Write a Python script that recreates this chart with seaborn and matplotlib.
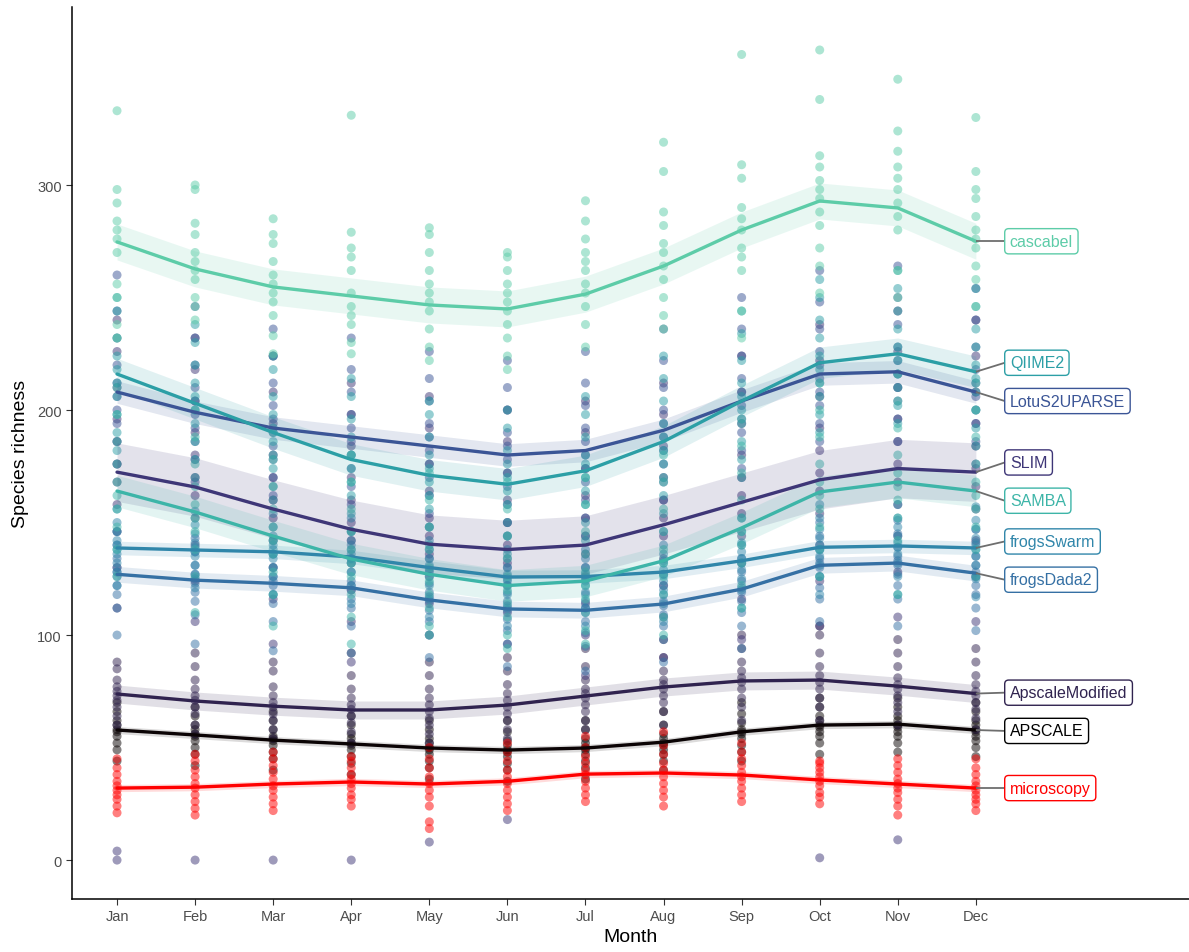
import numpy as np
import pandas as pd
import matplotlib
matplotlib.use("Agg")
import matplotlib.pyplot as plt
import seaborn as sns

# ---------------------------------------------------------------- data
months = ["Jan", "Feb", "Mar", "Apr", "May", "Jun",
          "Jul", "Aug", "Sep", "Oct", "Nov", "Dec"]

pipelines = ["APSCALE", "ApscaleModified", "SLIM", "LotuS2UPARSE", "frogsDada2",
             "frogsSwarm", "QIIME2", "SAMBA", "cascabel", "microscopy"]

# per-sample richness, one list per month
cascabel_pts = [
    [333, 298, 292, 284, 280, 276, 270, 256, 250, 238, 232],
    [300, 298, 283, 278, 270, 266, 262, 258, 250, 246, 240],
    [285, 278, 274, 266, 260, 256, 252, 248, 242, 233, 225],
    [331, 279, 272, 268, 262, 252, 246, 242, 238, 230, 225],
    [281, 278, 270, 262, 256, 252, 248, 244, 236, 228, 222],
    [270, 268, 262, 256, 252, 248, 244, 238, 232, 224, 218],
    [293, 284, 276, 270, 266, 262, 256, 252, 246, 238, 228],
    [319, 306, 288, 282, 274, 270, 264, 258, 250, 242, 236],
    [358, 309, 303, 290, 285, 280, 272, 268, 262, 244, 232],
    [360, 338, 313, 308, 302, 298, 294, 288, 282, 272, 264, 252],
    [347, 324, 315, 308, 303, 298, 292, 286, 280, 262, 250],
    [330, 306, 298, 294, 286, 280, 276, 272, 264, 258, 246],
]
qiime2_pts = [
    [250, 244, 232, 224, 218, 212, 206, 198, 190, 182],
    [238, 230, 220, 212, 206, 200, 194, 186, 178, 170],
    [224, 218, 206, 198, 192, 186, 180, 174, 166, 160],
    [214, 206, 196, 188, 180, 174, 168, 162, 154, 146],
    [204, 198, 188, 180, 174, 168, 162, 156, 148, 140],
    [200, 192, 182, 176, 170, 164, 158, 150, 144, 136],
    [206, 198, 188, 180, 176, 170, 164, 158, 150, 142],
    [224, 214, 204, 194, 188, 182, 176, 170, 162, 154],
    [244, 234, 222, 212, 206, 200, 194, 186, 178, 170],
    [258, 250, 240, 232, 224, 218, 212, 206, 198, 190],
    [262, 254, 244, 236, 228, 222, 216, 210, 202, 194],
    [254, 246, 236, 228, 220, 214, 208, 200, 192, 184],
]
lotus_pts = [
    [260, 244, 232, 220, 212, 206, 200, 194, 186, 176],
    [246, 232, 220, 210, 204, 198, 192, 186, 178, 168],
    [236, 224, 212, 202, 196, 190, 184, 178, 170, 162],
    [232, 218, 208, 198, 192, 186, 180, 174, 166, 158],
    [226, 214, 204, 194, 188, 182, 176, 170, 162, 154],
    [222, 210, 200, 190, 184, 178, 172, 166, 158, 150],
    [226, 212, 202, 192, 186, 180, 174, 168, 160, 152],
    [236, 222, 210, 200, 194, 188, 182, 176, 168, 160],
    [250, 236, 224, 214, 208, 202, 196, 190, 182, 174],
    [262, 248, 236, 226, 220, 214, 208, 202, 194, 186],
    [264, 250, 238, 228, 222, 216, 210, 204, 196, 186],
    [254, 240, 228, 218, 212, 206, 200, 194, 186, 176],
]
slim_pts = [
    [240, 226, 210, 196, 186, 176, 168, 158, 146, 130, 112, 4, 0],
    [232, 218, 204, 190, 180, 170, 162, 152, 140, 124, 106, 0],
    [224, 208, 194, 180, 170, 160, 152, 142, 130, 116, 96, 0],
    [212, 198, 184, 170, 160, 150, 142, 132, 120, 106, 88, 0],
    [206, 192, 176, 164, 152, 144, 136, 126, 114, 100, 8],
    [200, 186, 172, 160, 150, 140, 132, 122, 110, 96, 18],
    [204, 190, 174, 162, 152, 144, 136, 126, 114, 100, 82],
    [212, 198, 184, 170, 160, 152, 144, 134, 122, 108, 90],
    [224, 208, 194, 180, 170, 162, 154, 144, 132, 116, 98],
    [238, 222, 206, 192, 182, 172, 164, 154, 140, 124, 104, 1],
    [244, 226, 210, 196, 186, 176, 168, 158, 144, 128, 108, 9],
    [240, 224, 208, 194, 184, 174, 166, 156, 142, 126, 106],
]
samba_pts = [
    [210, 198, 186, 176, 168, 162, 156, 148, 138, 126],
    [200, 188, 176, 166, 158, 152, 146, 138, 126, 110],
    [190, 178, 166, 156, 148, 142, 136, 128, 118, 104],
    [180, 168, 156, 146, 138, 132, 126, 118, 108, 96],
    [172, 160, 148, 138, 130, 124, 118, 112, 104, 100],
    [168, 156, 144, 134, 126, 120, 114, 108, 100, 94],
    [170, 158, 146, 136, 128, 122, 116, 110, 102, 96],
    [180, 168, 156, 146, 138, 132, 126, 118, 108, 100],
    [196, 184, 172, 160, 152, 146, 140, 132, 122, 112],
    [212, 200, 188, 176, 168, 162, 156, 148, 138, 126],
    [216, 204, 192, 180, 172, 166, 160, 152, 142, 118],
    [212, 200, 188, 176, 168, 162, 156, 148, 138, 126],
]
swarm_pts = [
    [156, 150, 146, 142, 140, 138, 136, 132, 128, 122],
    [155, 149, 145, 141, 139, 137, 135, 131, 127, 121],
    [154, 148, 144, 140, 138, 136, 134, 130, 126, 118],
    [152, 146, 142, 138, 136, 134, 132, 128, 122, 114],
    [148, 142, 138, 134, 131, 129, 126, 122, 116, 108],
    [144, 138, 134, 130, 127, 125, 122, 118, 112, 104],
    [144, 138, 134, 130, 127, 125, 122, 118, 112, 104],
    [146, 140, 136, 132, 129, 127, 124, 120, 114, 106],
    [152, 146, 141, 137, 134, 132, 129, 125, 120, 112],
    [158, 152, 147, 143, 140, 138, 135, 131, 126, 118],
    [158, 152, 148, 144, 141, 139, 136, 132, 126, 118],
    [157, 151, 147, 143, 140, 138, 135, 131, 125, 117],
]
dada2_pts = [
    [146, 140, 134, 130, 128, 126, 122, 118, 112, 100],
    [143, 137, 131, 127, 125, 123, 119, 115, 109, 96],
    [142, 136, 130, 126, 124, 122, 118, 114, 106, 93],
    [140, 134, 128, 124, 122, 120, 116, 112, 104, 92],
    [134, 128, 123, 119, 117, 115, 111, 106, 100, 90],
    [130, 124, 119, 115, 113, 111, 107, 102, 96, 86],
    [130, 124, 119, 115, 112, 110, 106, 101, 95, 84],
    [133, 127, 122, 118, 115, 113, 109, 104, 98, 88],
    [140, 134, 128, 124, 121, 119, 115, 110, 104, 94],
    [150, 144, 138, 134, 132, 130, 126, 121, 116, 106],
    [151, 145, 139, 135, 133, 131, 127, 122, 116, 104],
    [147, 141, 135, 131, 128, 126, 122, 118, 112, 102],
]
apsmod_pts = [
    [88, 85, 80, 77, 75, 73, 71, 68, 64, 60],
    [92, 86, 80, 76, 73, 71, 68, 65, 60, 56],
    [88, 84, 77, 73, 70, 68, 65, 62, 58, 54],
    [92, 82, 76, 72, 69, 67, 64, 61, 57, 52],
    [88, 82, 76, 72, 69, 66, 63, 60, 56, 52],
    [90, 84, 78, 74, 71, 68, 65, 62, 58, 54],
    [94, 86, 80, 76, 74, 72, 69, 66, 62, 58],
    [98, 90, 84, 80, 78, 76, 73, 70, 66, 60],
    [100, 94, 88, 84, 81, 79, 76, 72, 68, 62],
    [104, 100, 92, 86, 82, 79, 76, 72, 68, 62],
    [98, 92, 86, 81, 78, 76, 73, 70, 66, 60],
    [94, 88, 82, 78, 75, 73, 70, 67, 63, 58],
]
apscale_pts = [
    [70, 66, 62, 60, 58, 57, 55, 52, 49, 44],
    [68, 64, 60, 58, 56, 55, 53, 50, 47, 42],
    [66, 62, 58, 55, 54, 53, 51, 48, 45, 40],
    [64, 60, 56, 54, 52, 51, 49, 46, 43, 38],
    [62, 58, 54, 52, 50, 49, 47, 44, 41, 36],
    [62, 57, 53, 51, 49, 48, 46, 43, 40, 35],
    [62, 58, 54, 52, 50, 49, 47, 44, 41, 36],
    [66, 60, 56, 54, 52, 51, 49, 47, 44, 40],
    [70, 65, 61, 58, 57, 56, 54, 51, 48, 44],
    [72, 68, 64, 62, 60, 59, 57, 55, 52, 47],
    [72, 68, 64, 62, 60, 59, 57, 55, 52, 48],
    [70, 66, 62, 60, 58, 57, 55, 53, 50, 46],
]
microscopy_pts = [
    [21, 24, 27, 29, 31, 33, 35, 38, 41, 45],
    [20, 23, 26, 29, 32, 34, 37, 40, 44, 47],
    [22, 25, 28, 31, 33, 36, 39, 42, 45, 48],
    [24, 27, 29, 32, 34, 36, 38, 41, 44, 46],
    [14, 17, 24, 28, 31, 34, 37, 41, 45, 50],
    [22, 25, 28, 31, 34, 37, 40, 44, 48, 52],
    [26, 29, 32, 35, 38, 40, 43, 46, 50, 55],
    [24, 28, 31, 34, 37, 40, 43, 47, 51, 57],
    [26, 29, 32, 35, 37, 39, 42, 45, 48, 52],
    [25, 28, 30, 33, 35, 37, 39, 41, 43, 44],
    [20, 24, 27, 30, 32, 34, 36, 39, 42, 45],
    [22, 25, 27, 29, 31, 33, 35, 38, 41, 45],
]

# smoothed monthly trend and half-width of its confidence band
cascabel_fit = [274.7, 262.7, 254.7, 250.7, 246.7, 244.9, 251.5, 264.0, 280.0, 292.9, 289.8, 275.0]
cascabel_ci = [8, 8, 8, 8, 8, 8, 8, 8, 8, 8, 8, 8]
qiime2_fit = [216, 203, 190, 178, 171, 167, 173, 186, 204, 221, 225, 217]
qiime2_ci = [7, 7, 7, 7, 7, 7, 7, 7, 7, 7, 7, 7]
lotus_fit = [208, 199, 192, 188, 184, 180, 182, 191, 204, 216, 217, 208]
lotus_ci = [5, 5, 5, 5, 5, 5, 5, 5, 5, 5, 5, 5]
slim_fit = [172.4, 165.8, 156, 147, 140.4, 138, 140, 149, 159, 169, 174, 172.4]
slim_ci = [13, 13, 13, 13, 13, 13, 13, 13, 13, 13, 13, 13]
samba_fit = [164, 154.7, 144, 133.8, 127, 122, 124, 133, 147.6, 163.6, 168, 164]
samba_ci = [7, 7, 7, 7, 7, 7, 7, 7, 7, 7, 7, 7]
swarm_fit = [138.7, 137.8, 137, 134.7, 130, 125.8, 126, 128, 133, 139, 139.6, 138.7]
swarm_ci = [3, 3, 3, 3, 3, 3, 3, 3, 3, 3, 3, 3]
dada2_fit = [127, 124.4, 123, 121, 115.6, 111.6, 111, 113.8, 120.4, 131, 132, 127.5]
dada2_ci = [3.5, 3.5, 3.5, 3.5, 3.5, 3.5, 3.5, 3.5, 3.5, 3.5, 3.5, 3.5]
apsmod_fit = [73.8, 70.7, 68.4, 66.7, 66.7, 68.9, 72.9, 76.9, 79.6, 80, 77.3, 74]
apsmod_ci = [4, 4, 4, 4, 4, 4, 4, 4, 4, 4, 4, 4]
apscale_fit = [57.8, 55.6, 53.3, 51.6, 49.8, 48.9, 49.8, 52.4, 57, 60, 60.4, 57.8]
apscale_ci = [1.6, 1.6, 1.6, 1.6, 1.6, 1.6, 1.6, 1.6, 1.6, 1.6, 1.6, 1.6]
microscopy_fit = [32, 32.4, 33.8, 34.7, 33.8, 35, 38.2, 38.7, 37.8, 35.6, 33.8, 32]
microscopy_ci = [1.6, 1.6, 1.6, 1.6, 1.6, 1.6, 1.6, 1.6, 1.6, 1.6, 1.6, 1.6]

points = {
    "APSCALE": apscale_pts, "ApscaleModified": apsmod_pts, "SLIM": slim_pts,
    "LotuS2UPARSE": lotus_pts, "frogsDada2": dada2_pts, "frogsSwarm": swarm_pts,
    "QIIME2": qiime2_pts, "SAMBA": samba_pts, "cascabel": cascabel_pts,
    "microscopy": microscopy_pts,
}
fits = {
    "APSCALE": (apscale_fit, apscale_ci), "ApscaleModified": (apsmod_fit, apsmod_ci),
    "SLIM": (slim_fit, slim_ci), "LotuS2UPARSE": (lotus_fit, lotus_ci),
    "frogsDada2": (dada2_fit, dada2_ci), "frogsSwarm": (swarm_fit, swarm_ci),
    "QIIME2": (qiime2_fit, qiime2_ci), "SAMBA": (samba_fit, samba_ci),
    "cascabel": (cascabel_fit, cascabel_ci), "microscopy": (microscopy_fit, microscopy_ci),
}

palette = {
    "APSCALE": "#0B0405",
    "ApscaleModified": "#30234F",
    "SLIM": "#3E3677",
    "LotuS2UPARSE": "#3B5596",
    "frogsDada2": "#3570A4",
    "frogsSwarm": "#3086AA",
    "QIIME2": "#2C9FA6",
    "SAMBA": "#3DB5A8",
    "cascabel": "#5DCCA8",
    "microscopy": "#FF0000",
}

# ---------------------------------------------------------------- frames
pt_rows = []
for name in pipelines:
    for m, vals in enumerate(points[name], start=1):
        for v in vals:
            pt_rows.append((name, m, v))
pts_df = pd.DataFrame(pt_rows, columns=["pipeline", "month", "richness"])

fit_rows = []
for name in pipelines:
    fit, ci = fits[name]
    for m, (f, c) in enumerate(zip(fit, ci), start=1):
        fit_rows.append((name, m, f, f - c, f + c))
fit_df = pd.DataFrame(fit_rows, columns=["pipeline", "month", "fit", "lo", "hi"])

# ---------------------------------------------------------------- style
sns.set_theme(style="ticks")
plt.rcParams["font.family"] = ["Liberation Sans", "DejaVu Sans"]

fig = plt.figure(figsize=(11.89, 9.53), dpi=100)
ax = fig.add_axes([0.0606, 0.0556, 0.9394, 0.936])

sns.scatterplot(data=pts_df, x="month", y="richness", hue="pipeline",
                hue_order=pipelines, palette=palette, s=42, alpha=0.5,
                edgecolor="none", legend=False, ax=ax, zorder=2)

for name in pipelines:
    sub = fit_df[fit_df.pipeline == name]
    ax.fill_between(sub.month, sub.lo, sub.hi, color=palette[name],
                    alpha=0.14, linewidth=0, zorder=3)

sns.lineplot(data=fit_df, x="month", y="fit", hue="pipeline",
             hue_order=pipelines, palette=palette, linewidth=2.4,
             legend=False, ax=ax, zorder=4, errorbar=None)

# ---------------------------------------------------------------- end labels
end_vals = {name: fits[name][0][-1] for name in pipelines}
order = sorted(pipelines, key=lambda n: end_vals[n])
lab_y = {n: end_vals[n] for n in order}
min_gap = 17.0
for _ in range(200):
    moved = False
    for a, b in zip(order[:-1], order[1:]):
        gap = lab_y[b] - lab_y[a]
        if gap < min_gap - 1e-6:
            shift = (min_gap - gap) / 2
            lab_y[a] -= shift
            lab_y[b] += shift
            moved = True
    if not moved:
        break

box_x = 12.37
for name in pipelines:
    c = palette[name] if name != "APSCALE" else "#000000"
    ax.plot([12, box_x], [end_vals[name], lab_y[name]], color="#6E6E6E",
            linewidth=1.3, zorder=5, solid_capstyle="butt")
    ax.text(box_x + 0.065, lab_y[name], name, color=c, fontsize=11.5,
            ha="left", va="center", zorder=6,
            bbox=dict(boxstyle="round,pad=0.32,rounding_size=0.25",
                      facecolor="white", edgecolor=c, linewidth=1.0))

# ---------------------------------------------------------------- axes
ax.set_xlim(0.424, 14.73)
ax.set_ylim(-17.3, 379.1)
ax.set_xticks(range(1, 13))
ax.set_xticklabels(months)
ax.set_yticks([0, 100, 200, 300])
ax.set_xlabel("Month", fontsize=14, color="black", labelpad=3)
ax.set_ylabel("Species richness", fontsize=14, color="black", labelpad=6)
ax.tick_params(axis="both", labelsize=10.5, colors="#333333", length=4,
               width=0.8, labelcolor="#4D4D4D")
sns.despine(ax=ax)
for side in ("left", "bottom"):
    ax.spines[side].set_linewidth(1.1)
    ax.spines[side].set_color("black")
ax.grid(False)

fig.savefig("out.png", dpi=100)
